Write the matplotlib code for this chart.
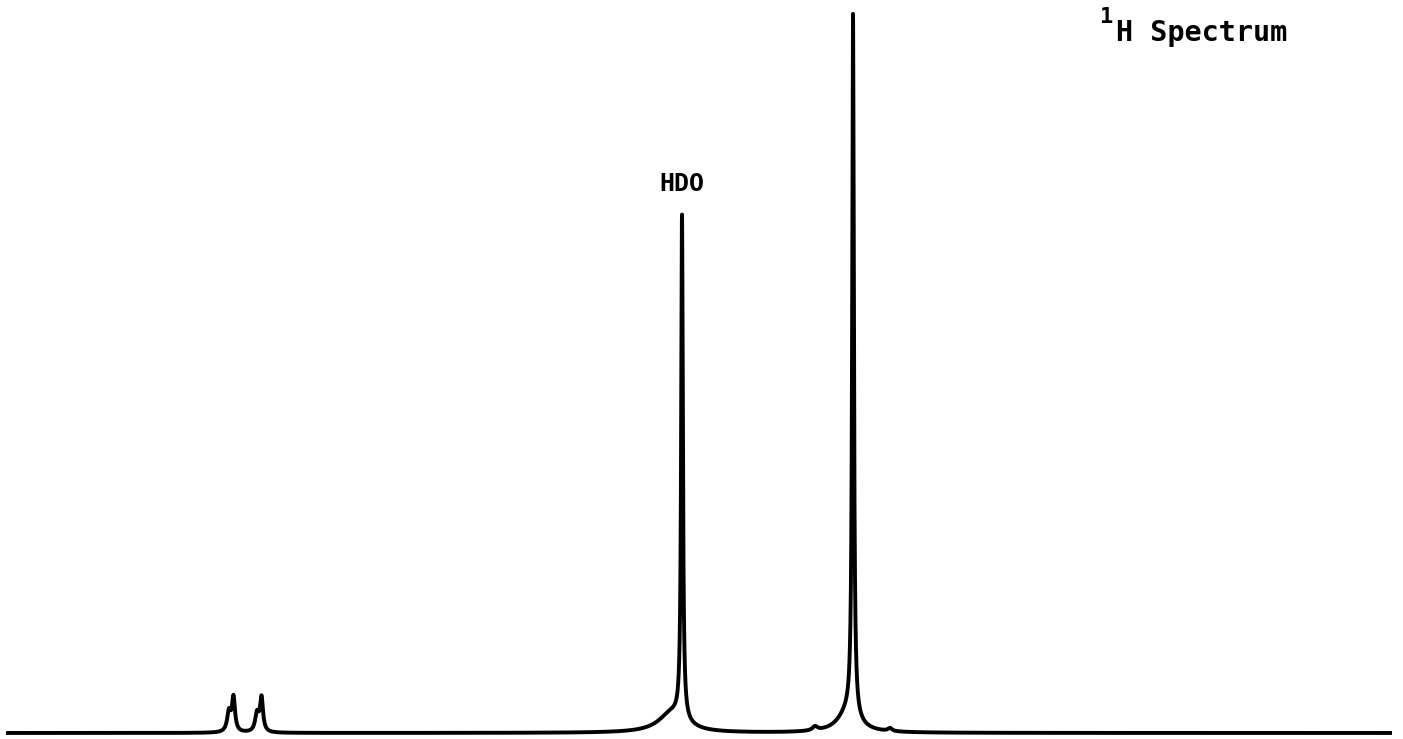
import numpy as np
import matplotlib
matplotlib.use("Agg")
import matplotlib.pyplot as plt

# Spectrum: peak list (position, height, half-width) in chart units
peak_pos = [229.0, 233.5, 257.0, 261.5, 672.0, 682.0, 815.0, 848.0, 853.0, 890.0]
peak_height = [20.0, 34.0, 18.0, 34.0, 20.0, 504.0, 4.0, 20.0, 702.0, 3.0]
peak_width = [2.2, 1.8, 2.2, 1.8, 16.0, 1.0, 3.0, 12.0, 1.0, 2.5]
x_start, x_end = 6.0, 1392.0

labels = ["HDO"]
title_sup = "1"
title_main = "H Spectrum"

x = np.linspace(x_start, x_end, 40001)
y = np.zeros_like(x)
for p, h, w in zip(peak_pos, peak_height, peak_width):
    y += h * w**2 / (w**2 + (x - p) ** 2)

fig = plt.figure(figsize=(14.03, 7.39), dpi=100)
ax = fig.add_axes([0, 0, 1, 1])
ax.plot(x, y, color="black", lw=2.8, solid_capstyle="butt", solid_joinstyle="round")
ax.set_xlim(0, 1403)
ax.set_ylim(-6, 733)
ax.axis("off")

font = dict(family="DejaVu Sans Mono", color="black", fontweight="bold")
ax.text(682, 733 - 191, labels[0], ha="center", va="baseline", fontsize=18, **font)
ax.text(1100, 733 - 23, title_sup, ha="left", va="baseline", fontsize=16, **font)
ax.text(1116, 733 - 41, title_main, ha="left", va="baseline", fontsize=20.5, **font)

fig.savefig("out.png", dpi=100)
